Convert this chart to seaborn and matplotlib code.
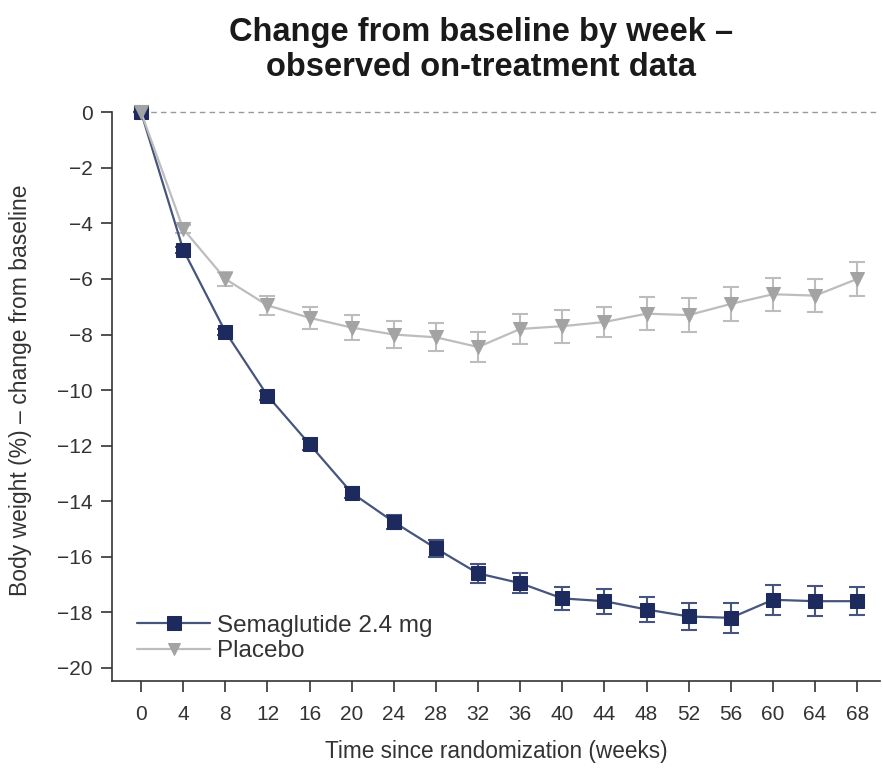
import matplotlib
matplotlib.use("Agg")
import matplotlib.pyplot as plt
import seaborn as sns
import pandas as pd

weeks = [0, 4, 8, 12, 16, 20, 24, 28, 32, 36, 40, 44, 48, 52, 56, 60, 64, 68]
sema = [0, -4.95, -7.9, -10.2, -11.95, -13.7, -14.75, -15.7, -16.6, -16.95,
        -17.5, -17.6, -17.9, -18.15, -18.2, -17.55, -17.6, -17.6]
sema_err = [0, 0.1, 0.1, 0.15, 0.2, 0.2, 0.25, 0.3, 0.35, 0.35,
            0.4, 0.45, 0.45, 0.5, 0.55, 0.55, 0.55, 0.5]
placebo = [0, -4.2, -6.0, -6.95, -7.4, -7.75, -8.0, -8.1, -8.45, -7.8,
           -7.7, -7.55, -7.25, -7.3, -6.9, -6.55, -6.6, -6.0]
placebo_err = [0, 0.15, 0.25, 0.35, 0.4, 0.45, 0.5, 0.5, 0.55, 0.55,
               0.6, 0.55, 0.6, 0.6, 0.6, 0.6, 0.6, 0.6]

df = pd.DataFrame({
    'week': weeks * 2,
    'change': sema + placebo,
    'group': ['Semaglutide 2.4 mg'] * len(weeks) + ['Placebo'] * len(weeks),
})

navy = '#1c2a5e'
navy_line = '#46557e'
grey = '#a3a3a3'
grey_line = '#bdbdbd'
txt = '#333333'

sns.set_style('ticks')
plt.rcParams['font.family'] = ['Liberation Sans', 'DejaVu Sans']

fig = plt.figure(figsize=(8.83, 7.72), dpi=100)
ax = fig.add_axes([0.127, 0.118, 0.87, 0.752])

ax.hlines(0, 0, 70.2, color='#999999', lw=1, ls=(0, (4, 3)), zorder=0)

# error bars (drawn behind the markers)
ax.errorbar(weeks, placebo, yerr=placebo_err, fmt='none', ecolor=grey_line,
            elinewidth=1.5, capsize=6, capthick=1.5, zorder=2)
ax.errorbar(weeks, sema, yerr=sema_err, fmt='none', ecolor=navy_line,
            elinewidth=1.5, capsize=6, capthick=1.5, zorder=3)

sns.lineplot(data=df, x='week', y='change', hue='group', style='group',
             palette={'Semaglutide 2.4 mg': navy_line, 'Placebo': grey_line},
             markers={'Semaglutide 2.4 mg': 's', 'Placebo': 'v'},
             dashes=False, linewidth=1.6, ax=ax, zorder=4)

marker_style = {'s': (navy, 10.5), 'v': (grey, 10)}
for line in ax.get_lines():
    m = line.get_marker()
    if m in marker_style:
        c, s = marker_style[m]
        line.set_markerfacecolor(c)
        line.set_markeredgecolor(c)
        line.set_markersize(s)
        line.set_clip_on(False)

ax.set_xlim(-2.75, 70.2)
ax.set_ylim(-20.47, 0.43)
ax.set_xticks(weeks)
ax.set_yticks(range(-20, 1, 2))
ax.tick_params(axis='both', labelsize=15, colors=txt, length=8,
               width=1.2, direction='out')
ax.tick_params(axis='x', pad=9)
ax.tick_params(axis='y', pad=6)
for side in ['top', 'right']:
    ax.spines[side].set_visible(False)
for side in ['left', 'bottom']:
    ax.spines[side].set_linewidth(1.2)
    ax.spines[side].set_color(txt)
ax.spines['left'].set_bounds(-20.47, 0)

ax.set_xlabel('Time since randomization (weeks)', fontsize=16.3, color=txt,
              labelpad=12)
ax.set_ylabel('Body weight (%) – change from baseline', fontsize=16.5,
              color=txt, labelpad=18)

handles, labels = ax.get_legend_handles_labels()
for h, mc, ms in zip(handles, [navy, grey], [10.5, 9]):
    h.set_markerfacecolor(mc)
    h.set_markeredgecolor(mc)
    h.set_markersize(ms)
ax.legend(handles, labels, loc='lower left', bbox_to_anchor=(0.02, 0.015),
          frameon=False, fontsize=17.5, handlelength=3.0, handletextpad=0.3,
          labelspacing=0.15, labelcolor=txt, borderaxespad=0)

fig.suptitle('Change from baseline by week –\nobserved on-treatment data',
             x=0.545, y=0.978, fontsize=23.5, fontweight='bold', color='#1a1a1a',
             linespacing=1.15)

plt.savefig('out.png', dpi=100)
